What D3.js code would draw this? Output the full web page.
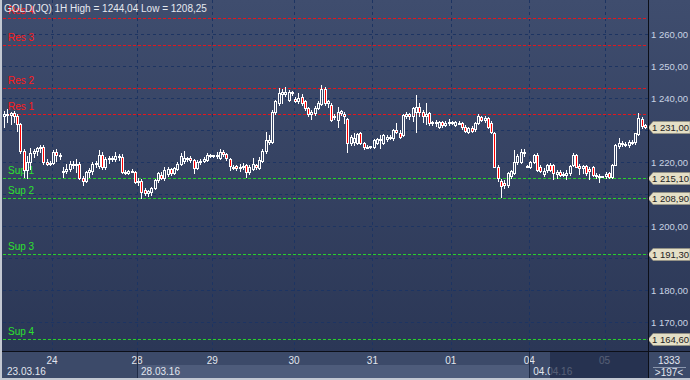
<!DOCTYPE html>
<html>
<head>
<meta charset="utf-8">
<script src="https://cdnjs.cloudflare.com/ajax/libs/d3/7.8.5/d3.min.js"></script>
<style>
  body { margin: 0; background: #2e3a58; }
  svg { display: block; font-family: "Liberation Sans", Arial, sans-serif; }
</style>
</head>
<body>
<script>
// hourly candles, GOLD(JQ) 23.03.16 - 05.04.16
var opens = [
  1234.6, 1235.2, 1234.8, 1235.3, 1234.6, 1232.0, 1223.6, 1217.5, 1220.2, 1223.0,
  1223.6, 1224.3, 1224.9, 1220.2, 1219.6, 1219.9, 1223.2, 1222.4, 1217.0, 1217.2,
  1218.0, 1219.6, 1219.0, 1219.6, 1215.1, 1214.2, 1216.8, 1217.4, 1219.5, 1218.8,
  1222.4, 1218.6, 1220.9, 1221.4, 1220.9, 1221.8, 1221.6, 1217.0, 1216.6, 1217.2,
  1216.8, 1213.9, 1214.2, 1211.3, 1210.4, 1210.6, 1212.0, 1214.5, 1216.0, 1215.0,
  1216.3, 1217.8, 1216.5, 1217.8, 1219.4, 1220.5, 1221.0, 1221.4, 1220.8, 1218.2,
  1220.0, 1220.5, 1220.8, 1222.2, 1222.0, 1221.8, 1221.4, 1223.2, 1222.6, 1221.0,
  1218.6, 1218.8, 1218.2, 1218.6, 1219.2, 1216.8, 1218.0, 1219.2, 1218.2, 1220.4,
  1223.4, 1226.2, 1226.4, 1235.8, 1238.4, 1241.2, 1241.4, 1239.6, 1242.0, 1239.8,
  1239.2, 1240.5, 1239.0, 1236.9, 1235.0, 1235.4, 1236.9, 1238.2, 1243.0, 1238.4,
  1237.9, 1234.6, 1233.2, 1235.4, 1235.0, 1233.4, 1226.0, 1226.4, 1226.0, 1229.0,
  1225.9, 1224.9, 1224.9, 1224.9, 1226.0, 1227.2, 1226.0, 1227.2, 1228.0, 1227.5,
  1230.0, 1229.0, 1228.6, 1234.6, 1235.0, 1234.6, 1235.6, 1237.4, 1235.6, 1234.6,
  1235.3, 1232.2, 1232.6, 1231.1, 1232.6, 1231.6, 1232.2, 1232.7, 1231.6, 1232.4,
  1232.2, 1231.1, 1229.6, 1230.6, 1230.4, 1232.2, 1234.0, 1233.2, 1233.8, 1232.2,
  1229.0, 1218.6, 1214.0, 1213.6, 1212.8, 1215.6, 1216.6, 1220.2, 1220.2, 1223.3,
  1218.8, 1218.6, 1220.2, 1222.3, 1218.6, 1216.4, 1217.6, 1219.2, 1219.2, 1216.4,
  1217.1, 1216.4, 1216.0, 1216.6, 1219.2, 1222.3, 1218.8, 1218.2, 1218.8, 1217.8,
  1218.6, 1216.0, 1215.8, 1215.5, 1215.6, 1216.6, 1215.5, 1219.2, 1225.0, 1226.0,
  1225.8, 1225.4, 1226.4, 1226.2, 1228.8, 1233.6, 1231.6
];
var highs = [
  1236.0, 1236.6, 1235.8, 1235.9, 1235.2, 1232.4, 1224.0, 1222.0, 1224.3, 1224.0,
  1224.8, 1225.5, 1225.4, 1220.9, 1220.5, 1223.8, 1224.0, 1223.0, 1218.6, 1219.4,
  1220.4, 1220.4, 1221.0, 1220.2, 1215.6, 1217.4, 1218.2, 1220.2, 1220.3, 1223.8,
  1223.2, 1221.6, 1222.0, 1222.0, 1223.2, 1222.6, 1222.6, 1217.6, 1217.6, 1217.8,
  1217.2, 1215.0, 1214.6, 1211.8, 1211.2, 1212.4, 1214.8, 1217.0, 1216.8, 1218.4,
  1218.4, 1218.2, 1218.6, 1220.0, 1223.0, 1223.5, 1221.6, 1222.0, 1221.0, 1220.6,
  1221.0, 1221.6, 1222.8, 1222.6, 1222.4, 1223.3, 1224.0, 1223.8, 1223.0, 1221.4,
  1219.0, 1219.2, 1219.4, 1219.8, 1219.6, 1219.0, 1221.2, 1219.6, 1221.6, 1224.2,
  1229.6, 1228.4, 1236.4, 1239.6, 1243.1, 1242.8, 1243.4, 1242.6, 1242.4, 1240.4,
  1241.6, 1241.4, 1239.4, 1237.4, 1236.2, 1237.6, 1239.0, 1244.04, 1243.4, 1239.6,
  1238.6, 1235.2, 1237.4, 1236.2, 1235.8, 1233.8, 1228.6, 1229.1, 1229.2, 1229.4,
  1226.4, 1225.3, 1225.2, 1227.4, 1227.6, 1228.5, 1228.8, 1228.4, 1228.6, 1230.4,
  1232.2, 1230.2, 1235.0, 1235.6, 1235.4, 1237.4, 1240.9, 1238.6, 1236.2, 1238.4,
  1235.8, 1233.0, 1233.2, 1233.0, 1233.0, 1232.8, 1233.4, 1233.0, 1233.0, 1232.8,
  1232.6, 1231.6, 1231.0, 1231.2, 1232.6, 1235.2, 1234.6, 1234.4, 1234.2, 1233.0,
  1229.4, 1219.0, 1214.6, 1214.4, 1216.8, 1217.6, 1223.8, 1222.6, 1224.2, 1224.0,
  1219.0, 1220.4, 1222.6, 1222.8, 1219.0, 1218.2, 1219.6, 1219.8, 1219.6, 1217.6,
  1217.6, 1217.0, 1217.6, 1219.2, 1223.0, 1222.6, 1219.6, 1219.2, 1219.0, 1218.6,
  1218.8, 1216.6, 1216.2, 1215.8, 1216.8, 1217.0, 1219.6, 1225.6, 1227.6, 1226.6,
  1226.4, 1226.8, 1227.0, 1229.2, 1235.3, 1234.0, 1232.0
];
var lows = [
  1231.0, 1232.5, 1231.8, 1232.6, 1229.8, 1223.0, 1215.4, 1215.0, 1218.0, 1221.5,
  1222.3, 1223.2, 1219.5, 1219.2, 1219.0, 1219.5, 1220.5, 1221.0, 1215.4, 1216.5,
  1217.2, 1218.3, 1216.8, 1214.8, 1212.8, 1213.8, 1215.5, 1216.4, 1218.4, 1218.2,
  1218.0, 1218.0, 1219.8, 1220.5, 1220.4, 1220.8, 1216.5, 1216.2, 1216.4, 1217.0,
  1213.5, 1212.8, 1208.8, 1209.8, 1209.5, 1209.9, 1211.6, 1213.8, 1214.8, 1214.5,
  1215.8, 1216.0, 1216.2, 1217.5, 1219.0, 1219.8, 1220.4, 1220.0, 1216.6, 1217.8,
  1219.5, 1220.2, 1220.5, 1221.6, 1221.6, 1221.3, 1221.0, 1222.0, 1220.6, 1217.5,
  1217.8, 1217.6, 1217.2, 1218.0, 1215.5, 1216.4, 1217.6, 1218.0, 1217.8, 1220.0,
  1223.0, 1225.6, 1226.0, 1235.0, 1238.0, 1238.4, 1240.6, 1239.2, 1241.0, 1238.8,
  1238.4, 1238.0, 1236.4, 1234.4, 1233.4, 1234.8, 1236.6, 1238.0, 1237.8, 1237.2,
  1232.8, 1233.6, 1231.0, 1234.8, 1232.2, 1223.3, 1225.4, 1225.3, 1225.6, 1225.8,
  1224.1, 1224.5, 1224.6, 1224.6, 1225.6, 1224.6, 1225.8, 1226.6, 1227.2, 1227.0,
  1229.0, 1227.6, 1228.2, 1233.8, 1233.6, 1233.0, 1229.6, 1234.4, 1232.6, 1232.0,
  1231.6, 1231.6, 1231.4, 1230.8, 1231.0, 1231.2, 1231.6, 1231.8, 1231.2, 1231.8,
  1230.4, 1229.4, 1229.2, 1229.4, 1229.8, 1231.8, 1232.8, 1232.6, 1230.6, 1229.2,
  1218.4, 1214.2, 1209.2, 1211.8, 1212.4, 1215.0, 1216.2, 1219.6, 1219.8, 1222.0,
  1218.4, 1218.2, 1219.8, 1217.4, 1216.8, 1215.6, 1217.0, 1217.4, 1214.6, 1215.2,
  1215.6, 1215.8, 1214.6, 1216.0, 1218.8, 1218.4, 1216.4, 1216.6, 1216.0, 1214.6,
  1215.8, 1215.2, 1213.8, 1215.3, 1215.2, 1215.2, 1215.2, 1219.0, 1224.4, 1225.2,
  1225.0, 1224.8, 1225.6, 1225.8, 1228.4, 1230.8, 1230.6
];
var closes = [
  1235.2, 1234.8, 1235.3, 1234.6, 1232.0, 1223.6, 1217.5, 1220.2, 1223.0, 1223.6,
  1224.3, 1224.9, 1220.2, 1219.6, 1219.9, 1223.2, 1222.4, 1222.0, 1217.2, 1218.0,
  1219.6, 1219.0, 1219.4, 1215.1, 1214.2, 1216.8, 1217.6, 1219.5, 1219.8, 1222.4,
  1218.6, 1220.9, 1221.4, 1220.9, 1221.8, 1221.5, 1217.0, 1216.6, 1217.2, 1217.4,
  1213.9, 1214.2, 1210.8, 1210.4, 1210.9, 1212.0, 1214.5, 1216.6, 1215.0, 1217.5,
  1217.8, 1216.5, 1218.1, 1219.4, 1221.8, 1221.4, 1221.3, 1220.8, 1218.2, 1220.0,
  1220.5, 1221.1, 1222.4, 1222.0, 1222.2, 1222.3, 1223.2, 1222.6, 1221.2, 1218.7,
  1218.3, 1218.3, 1218.6, 1218.9, 1216.8, 1218.6, 1219.6, 1218.6, 1220.6, 1223.6,
  1226.8, 1227.0, 1235.8, 1239.0, 1241.6, 1241.8, 1242.0, 1242.0, 1241.8, 1239.2,
  1240.2, 1238.4, 1236.9, 1235.0, 1235.6, 1236.9, 1238.5, 1243.0, 1238.4, 1239.0,
  1233.2, 1234.2, 1235.8, 1235.9, 1234.3, 1226.1, 1228.0, 1227.5, 1228.8, 1226.0,
  1224.9, 1224.9, 1225.0, 1227.0, 1227.4, 1226.8, 1228.5, 1228.0, 1227.6, 1230.1,
  1229.4, 1228.0, 1234.8, 1235.2, 1234.4, 1236.9, 1237.4, 1235.8, 1234.5, 1235.0,
  1232.2, 1232.6, 1232.4, 1232.7, 1231.6, 1232.4, 1232.7, 1232.2, 1232.6, 1232.2,
  1231.1, 1229.8, 1230.6, 1229.8, 1232.2, 1234.3, 1233.2, 1233.8, 1230.9, 1229.6,
  1218.6, 1215.0, 1212.7, 1212.8, 1216.6, 1217.4, 1220.2, 1221.8, 1223.3, 1222.8,
  1218.6, 1220.2, 1222.3, 1217.6, 1217.3, 1217.3, 1219.2, 1217.6, 1216.6, 1217.0,
  1216.0, 1216.2, 1216.6, 1218.8, 1222.3, 1218.6, 1218.2, 1218.8, 1216.6, 1217.2,
  1216.0, 1215.6, 1215.4, 1215.6, 1216.4, 1215.5, 1219.2, 1225.4, 1226.0, 1225.8,
  1225.4, 1226.4, 1226.0, 1229.0, 1233.8, 1231.2, 1231.0
];

// day separators (bar index where each day starts) and labels
var dayStarts = [15, 41, 64, 89, 113, 137, 161, 184];
var dayLabels = ["24", "28", "29", "30", "31", "01", "04", "05"];
var dateStarts = [0, 41, 161];
var dateLabels = ["23.03.16", "28.03.16", "04.04.16"];

var yTicks = [1170, 1180, 1190, 1200, 1210, 1220, 1230, 1240, 1250, 1260];
// labels hidden under a price tag are not drawn
var yLabelTicks = [1170, 1180, 1200, 1220, 1240, 1250, 1260];

var resLevels = [1235.0, 1243.1, 1256.7, 1265.0];
var resLabels = ["Res 1", "Res 2", "Res 3", "Res 4"];
var supLevels = [1215.10, 1208.90, 1191.30, 1164.60];
var supLabels = ["Sup 1", "Sup 2", "Sup 3", "Sup 4"];

var lastPrice = 1231.00;
var titleText = "GOLD(JQ) 1H High = 1244,04 Low = 1208,25";

var svgWidth = 690;
var svgHeight = 380;
var plotLeft = 3, plotRight = 647, plotBottom = 351;

var svg = d3.select("body")
  .append("svg")
  .attr("width", svgWidth)
  .attr("height", svgHeight);

var defs = svg.append("defs");
var grad = defs.append("linearGradient")
  .attr("id", "bg")
  .attr("x1", 0).attr("y1", 0).attr("x2", 0).attr("y2", 1);
grad.append("stop").attr("offset", "0%").attr("stop-color", "#3f4d6e");
grad.append("stop").attr("offset", "100%").attr("stop-color", "#2b3756");

svg.append("rect")
  .attr("width", svgWidth).attr("height", plotBottom)
  .attr("fill", "url(#bg)");

var fmt = d3.formatLocale({ decimal: ",", thousands: " ", grouping: [3], currency: ["", ""] }).format(",.2f");

// scales
var xScale = d3.scaleBand()
  .domain(d3.range(opens.length))
  .range([plotLeft, plotRight]);

var yScale = d3.scaleLinear()
  .domain([1161, 1270.7])
  .range([plotBottom, 0]);

var snap = v => Math.round(v) + 0.5;

// grid
svg.append("g").selectAll("line")
  .data(yTicks)
  .enter()
  .append("line")
  .attr("x1", plotLeft).attr("x2", plotRight + 1)
  .attr("y1", d => snap(yScale(d))).attr("y2", d => snap(yScale(d)))
  .attr("stroke", "#1d3462").attr("stroke-dasharray", "3,3");

svg.append("g").selectAll("line")
  .data(dayStarts)
  .enter()
  .append("line")
  .attr("x1", d => snap(xScale(d))).attr("x2", d => snap(xScale(d)))
  .attr("y1", 0).attr("y2", plotBottom)
  .attr("stroke", "#1d3462").attr("stroke-dasharray", "3,3");

// support / resistance
var levelG = svg.append("g");
levelG.selectAll(".res")
  .data(resLevels)
  .enter()
  .append("line")
  .attr("x1", plotLeft).attr("x2", plotRight + 1)
  .attr("y1", d => snap(yScale(d))).attr("y2", d => snap(yScale(d)))
  .attr("stroke", "#e3161c").attr("stroke-dasharray", "3,2");

levelG.selectAll(".sup")
  .data(supLevels)
  .enter()
  .append("line")
  .attr("x1", plotLeft).attr("x2", plotRight + 1)
  .attr("y1", d => snap(yScale(d))).attr("y2", d => snap(yScale(d)))
  .attr("stroke", "#28d22a").attr("stroke-dasharray", "3,2");

levelG.selectAll(".resText")
  .data(resLevels)
  .enter()
  .append("text")
  .attr("x", 8)
  .attr("y", d => yScale(d) - 4)
  .style("font-size", "10px")
  .style("fill", "#ff1a1a")
  .text((d, i) => resLabels[i]);

levelG.selectAll(".supText")
  .data(supLevels)
  .enter()
  .append("text")
  .attr("x", 8)
  .attr("y", d => yScale(d) - 4)
  .style("font-size", "10px")
  .style("fill", "#2ee02e")
  .text((d, i) => supLabels[i]);

// candles
var bars = d3.range(opens.length);
var candleG = svg.append("g").attr("shape-rendering", "crispEdges");

function bodyLeft(i) {
  return Math.round(xScale(i) + xScale.bandwidth() / 2 - 1.5);
}
function bodyTop(i) { return Math.round(yScale(Math.max(opens[i], closes[i]))); }
function bodyBot(i) {
  return Math.max(Math.round(yScale(Math.min(opens[i], closes[i]))), bodyTop(i) + 1);
}

candleG.selectAll(".wickHi")
  .data(bars)
  .enter()
  .append("line")
  .attr("x1", i => bodyLeft(i) + 1.5).attr("x2", i => bodyLeft(i) + 1.5)
  .attr("y1", i => Math.round(yScale(highs[i])))
  .attr("y2", i => bodyTop(i))
  .attr("stroke", "#ffffff");

candleG.selectAll(".wickLo")
  .data(bars)
  .enter()
  .append("line")
  .attr("x1", i => bodyLeft(i) + 1.5).attr("x2", i => bodyLeft(i) + 1.5)
  .attr("y1", i => bodyBot(i) + 1)
  .attr("y2", i => Math.round(yScale(lows[i])) + 1)
  .attr("stroke", "#ffffff");

candleG.selectAll("rect")
  .data(bars)
  .enter()
  .append("rect")
  .attr("x", i => bodyLeft(i) + 0.5)
  .attr("y", i => bodyTop(i) + 0.5)
  .attr("width", 2)
  .attr("height", i => bodyBot(i) - bodyTop(i))
  .attr("fill", i => closes[i] < opens[i] ? "#ff0000" : "none")
  .attr("stroke", "#ffffff");

// title
svg.append("text")
  .attr("x", 4).attr("y", 12)
  .style("font-size", "10px")
  .style("fill", "#e6e9ef")
  .text(titleText);

// right price axis
var rightAxis = d3.axisRight(yScale)
  .tickValues(yLabelTicks)
  .tickSize(0)
  .tickPadding(2)
  .tickFormat(fmt);

var axisG = svg.append("g")
  .attr("transform", `translate(649, 0)`)
  .call(rightAxis);
axisG.select(".domain").remove();
axisG.selectAll("text")
  .style("font-size", "9.5px")
  .style("font-family", "'Liberation Sans', Arial, sans-serif")
  .style("fill", "#c9d3e4");

// price tags
var tags = [lastPrice].concat(supLevels);
var tagG = svg.append("g");
tagG.selectAll("path")
  .data(tags)
  .enter()
  .append("path")
  .attr("d", d => {
    var yc = Math.round(yScale(d)) + 0.5;
    return `M648,${yc} L653,${yc - 6} L690,${yc - 6} L690,${yc + 6} L653,${yc + 6} Z`;
  })
  .attr("fill", "#e4dfc6")
  .attr("stroke", "#9a9680")
  .attr("stroke-width", 0.6);

tagG.selectAll("text")
  .data(tags)
  .enter()
  .append("text")
  .attr("x", 652)
  .attr("y", d => Math.round(yScale(d)) + 4)
  .style("font-size", "9.5px")
  .style("fill", "#222222")
  .text(d => fmt(d));

// bottom strip
var bottomG = svg.append("g");
bottomG.append("rect")
  .attr("x", 0).attr("y", plotBottom)
  .attr("width", svgWidth).attr("height", svgHeight - plotBottom)
  .attr("fill", "#3c4a69");
bottomG.append("rect")
  .attr("x", xScale(41)).attr("y", 365)
  .attr("width", xScale(161) - xScale(41)).attr("height", 13)
  .attr("fill", "#4e5c7b");

bottomG.selectAll(".dayText")
  .data(dayStarts)
  .enter()
  .append("text")
  .attr("x", d => xScale(d))
  .attr("y", 364)
  .attr("text-anchor", "middle")
  .style("font-size", "10px")
  .style("fill", "#e2e6ee")
  .text((d, i) => dayLabels[i]);

bottomG.selectAll(".dateText")
  .data(dateStarts)
  .enter()
  .append("text")
  .attr("x", d => xScale(d) + 4)
  .attr("y", 375)
  .style("font-size", "10px")
  .style("fill", "#e2e6ee")
  .text((d, i) => dateLabels[i]);

bottomG.selectAll(".sep")
  .data([41, 161])
  .enter()
  .append("line")
  .attr("x1", d => snap(xScale(d))).attr("x2", d => snap(xScale(d)))
  .attr("y1", plotBottom).attr("y2", 378)
  .attr("stroke", "#1f2b46");

// dimmed part of the scroller
bottomG.append("rect")
  .attr("x", 550).attr("y", 352)
  .attr("width", 98).attr("height", 26)
  .attr("fill", "#1e2946").attr("opacity", 0.72);

// corner box
bottomG.append("text")
  .attr("x", 669).attr("y", 364)
  .attr("text-anchor", "middle")
  .style("font-size", "10px")
  .style("fill", "#e2e6ee")
  .text("1333");
bottomG.append("line")
  .attr("x1", 653).attr("x2", 686)
  .attr("y1", 367.5).attr("y2", 367.5)
  .attr("stroke", "#8c98ae");
bottomG.append("text")
  .attr("x", 669).attr("y", 376)
  .attr("text-anchor", "middle")
  .style("font-size", "10px")
  .style("fill", "#e2e6ee")
  .text(">197<");

// frame lines
svg.append("line")
  .attr("x1", 0).attr("x2", svgWidth)
  .attr("y1", plotBottom + 0.5).attr("y2", plotBottom + 0.5)
  .attr("stroke", "#0c0f18");
svg.append("line")
  .attr("x1", 648.5).attr("x2", 648.5)
  .attr("y1", 0).attr("y2", 378)
  .attr("stroke", "#0c0f18");
svg.append("rect")
  .attr("x", 0).attr("y", 0).attr("width", 2).attr("height", svgHeight)
  .attr("fill", "#c3c8d2");
svg.append("rect")
  .attr("x", 0).attr("y", 378).attr("width", svgWidth).attr("height", 2)
  .attr("fill", "#c3c8d2");
</script>
</body>
</html>
